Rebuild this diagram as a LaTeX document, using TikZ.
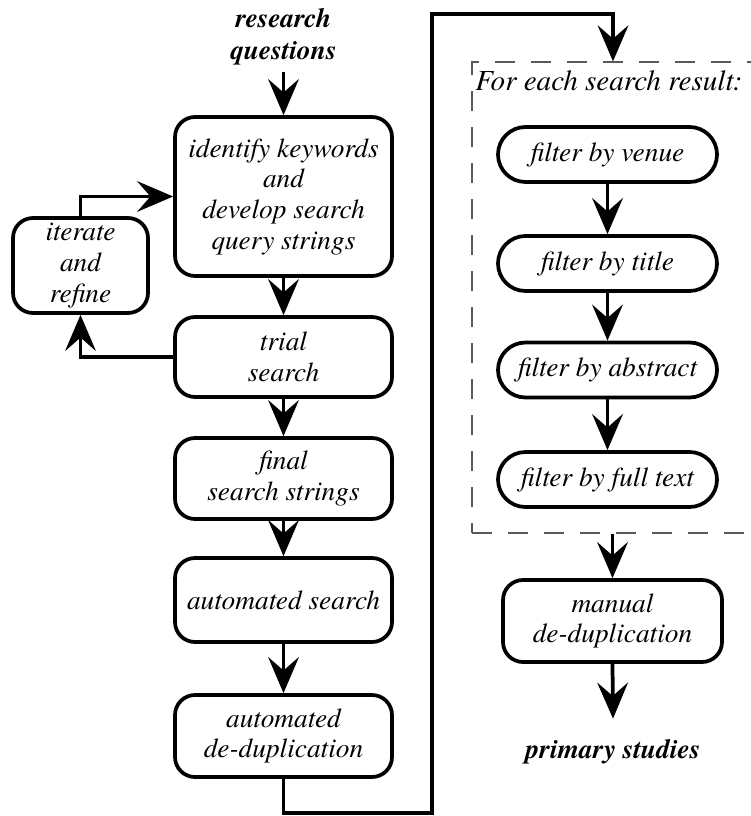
\documentclass[tikz,border=0pt]{standalone}
\usepackage{fontspec}
\setmainfont{TeX Gyre Termes}
\usetikzlibrary{arrows.meta,shapes.misc}

\begin{document}
\begin{tikzpicture}[x=0.75pt,y=-0.75pt,
  every node/.style={font=\fontsize{20.5pt}{23pt}\selectfont\itshape, align=center},
  stepbox/.style={draw, line width=2.8pt, rectangle, rounded corners=15pt, inner sep=0pt},
  pill/.style={draw, line width=2.8pt, rounded rectangle, minimum width=164.25pt,
    minimum height=41.25pt, inner sep=0pt},
  terminal/.style={font=\fontsize{20.5pt}{24pt}\selectfont\bfseries\itshape},
  flow/.style={line width=2.8pt, -{Stealth[length=27pt,width=23pt,inset=10pt]}},
  group/.style={draw=black!65, line width=0.9pt, dash pattern=on 15pt off 12pt,
    rectangle, inner sep=0pt}
]
\useasboundingbox (0,0) rectangle (750,816);

% input
\node[terminal, inner ysep=5pt] (rq) at (283.5,37) {research\\questions};

% main search pipeline
\node[stepbox, minimum width=162.75pt, minimum height=119.25pt] (kw) at (283.5,196.5)
  {identify keywords\\and\\develop search\\query strings};
\node[stepbox, minimum width=101.25pt, minimum height=71.25pt] (ir) at (80.5,265.5)
  {iterate\\and\\refine};
\node[stepbox, minimum width=162.75pt, minimum height=60pt] (ts) at (283.5,357)
  {trial\\search};
\node[stepbox, minimum width=162.75pt, minimum height=60.75pt] (fs) at (283.5,478.5)
  {final\\search strings};
\node[stepbox, minimum width=162.75pt, minimum height=63pt] (as) at (283.5,600)
  {automated search};
\node[stepbox, minimum width=162.75pt, minimum height=61.5pt] (ad) at (283.5,736)
  {automated\\de-duplication};

% per-result filtering
\node[group, minimum width=217.5pt, minimum height=353.25pt] (loop) at (617,297.5) {};
\node[anchor=west, inner sep=0pt, font=\fontsize{21.8pt}{24pt}\selectfont\itshape]
  (lab) at (475,81) {For each search result:};
\node[pill] (fv) at (607.5,154.5) {filter by venue};
\node[pill] (ft) at (607.5,263.5) {filter by title};
\node[pill] (fa) at (607.5,370) {filter by abstract};
\node[pill] (ff) at (607.5,479.5) {filter by full text};

\node[stepbox, minimum width=164.25pt, minimum height=61.5pt] (man) at (612.5,621)
  {manual\\de-duplication};
\node[terminal, anchor=base, inner ysep=15pt] (ps) at (613,758) {primary studies};

% route from the automated branch to the filtering block
\coordinate (c1) at (432,813);
\coordinate (c2) at (432,14);
\coordinate (c3) at (613,14);

% connectors
\draw[flow] (rq.south) -- (kw.north);
\draw[flow] (kw.south) -- (ts.north);
\draw[flow] (ts.west) -| (ir.south);
\draw[flow] (ir.north) |- (kw.west);
\draw[flow] (ts.south) -- (fs.north);
\draw[flow] (fs.south) -- (as.north);
\draw[flow] (as.south) -- (ad.north);
\draw[flow] (ad.south) |- (c1) -- (c2) -- (c3) -- (c3 |- loop.north);
\draw[flow] (fv.south) -- (ft.north);
\draw[flow] (ft.south) -- (fa.north);
\draw[flow] (fa.south) -- (ff.north);
\draw[flow] (man.north |- loop.south) -- (man.north);
\draw[flow] (man.south) -- (ps.north);
\end{tikzpicture}
\end{document}
